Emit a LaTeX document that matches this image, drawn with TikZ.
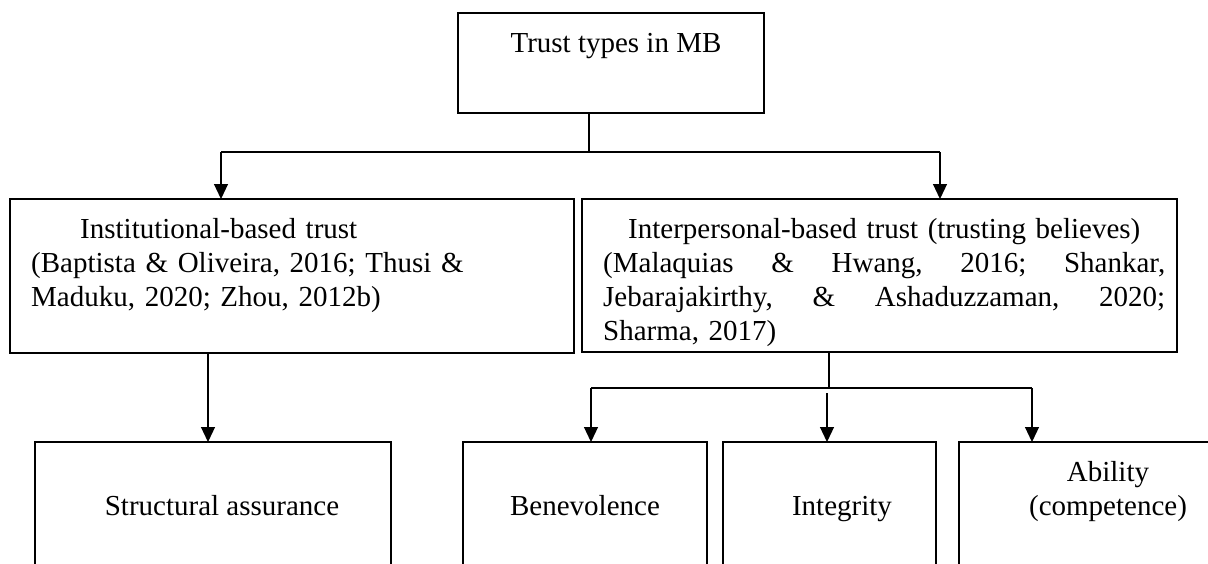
\documentclass[tikz,border=0pt]{standalone}
\usepackage{fontspec}
\setmainfont{Liberation Serif}
\usetikzlibrary{arrows.meta}
\begin{document}
\begin{tikzpicture}[x=1pt,y=-1pt,
  box/.style={draw, line width=2.6pt, inner sep=0pt, outer sep=0pt, anchor=north west},
  conn/.style={line width=1.2pt},
  arr/.style={conn, -{Triangle[width=14pt,length=15pt]}},
  txt/.style={inner sep=0pt, font=\fontsize{29}{34}\selectfont},
]
\useasboundingbox (0,0) rectangle (1208,563);
\clip (0,0) rectangle (1208,563);
\fill[white] (0,0) rectangle (1208,563);

% boxes
\node[box, minimum width=306, minimum height=100] (root) at (458,13) {};
\node[box, minimum width=564, minimum height=154] (inst) at (10,199) {};
\node[box, minimum width=595, minimum height=153] (inter) at (582,199) {};
\node[box, minimum width=356, minimum height=160] (struct) at (35,442) {};
\node[box, minimum width=244, minimum height=160] (bene) at (463,442) {};
\node[box, minimum width=213, minimum height=160] (integ) at (723,442) {};
\node[box, minimum width=298, minimum height=160] (abil) at (959,442) {};

% texts
\node[txt, anchor=base] (rootT) at (616,52) {Trust types in MB};
\node[txt, anchor=base west, text width=524pt, align=left] (instT) at (31,238)
  {\hspace*{49pt}Institutional-based trust\\(Baptista \& Oliveira, 2016; Thusi \&\\Maduku, 2020; Zhou, 2012b)};
% justified lines are spread word by word across the full width
\node[txt, anchor=base west, text width=562pt, align=left] (interT) at (603,238)
  {\hspace*{25pt}Interpersonal-based trust (trusting believes)\\
   \makebox[562pt][l]{(Malaquias\hfill\&\hfill Hwang,\hfill 2016;\hfill Shankar,}\\
   \makebox[562pt][l]{Jebarajakirthy,\hfill\&\hfill Ashaduzzaman,\hfill 2020;}\\
   Sharma, 2017)};
\node[txt, anchor=base] (structT) at (222,515) {Structural assurance};
\node[txt, anchor=base] (beneT) at (585,515) {Benevolence};
\node[txt, anchor=base] (integT) at (842,515) {Integrity};
\node[txt, anchor=base, text width=250pt, align=center] (abilT) at (1108,481) {Ability\\(competence)};

% upper connectors
\coordinate (hubTop) at (589,152);
\coordinate (hubL) at (221,152);
\coordinate (hubR) at (940,152);
\draw[conn] (hubTop |- root.south) -- (hubTop);
\draw[conn] (hubL) -- (hubR);
\draw[arr] (hubL) -- (hubL |- inst.north);
\draw[arr] (hubR) -- (hubR |- inter.north);

% left branch
\coordinate (dl) at (208,0);
\draw[arr] (inst.south -| dl) -- (struct.north -| dl);

% right branch
\coordinate (hub2) at (829,388);
\coordinate (b1) at (591,388);
\coordinate (b2) at (827,393);
\coordinate (b3) at (1032,388);
\draw[conn] (hub2 |- inter.south) -- (hub2);
\draw[conn] (b1) -- (b3);
\draw[arr] (b1) -- (b1 |- bene.north);
\draw[arr] (b2) -- (b2 |- integ.north);
\draw[arr] (b3) -- (b3 |- abil.north);
\end{tikzpicture}
\end{document}
